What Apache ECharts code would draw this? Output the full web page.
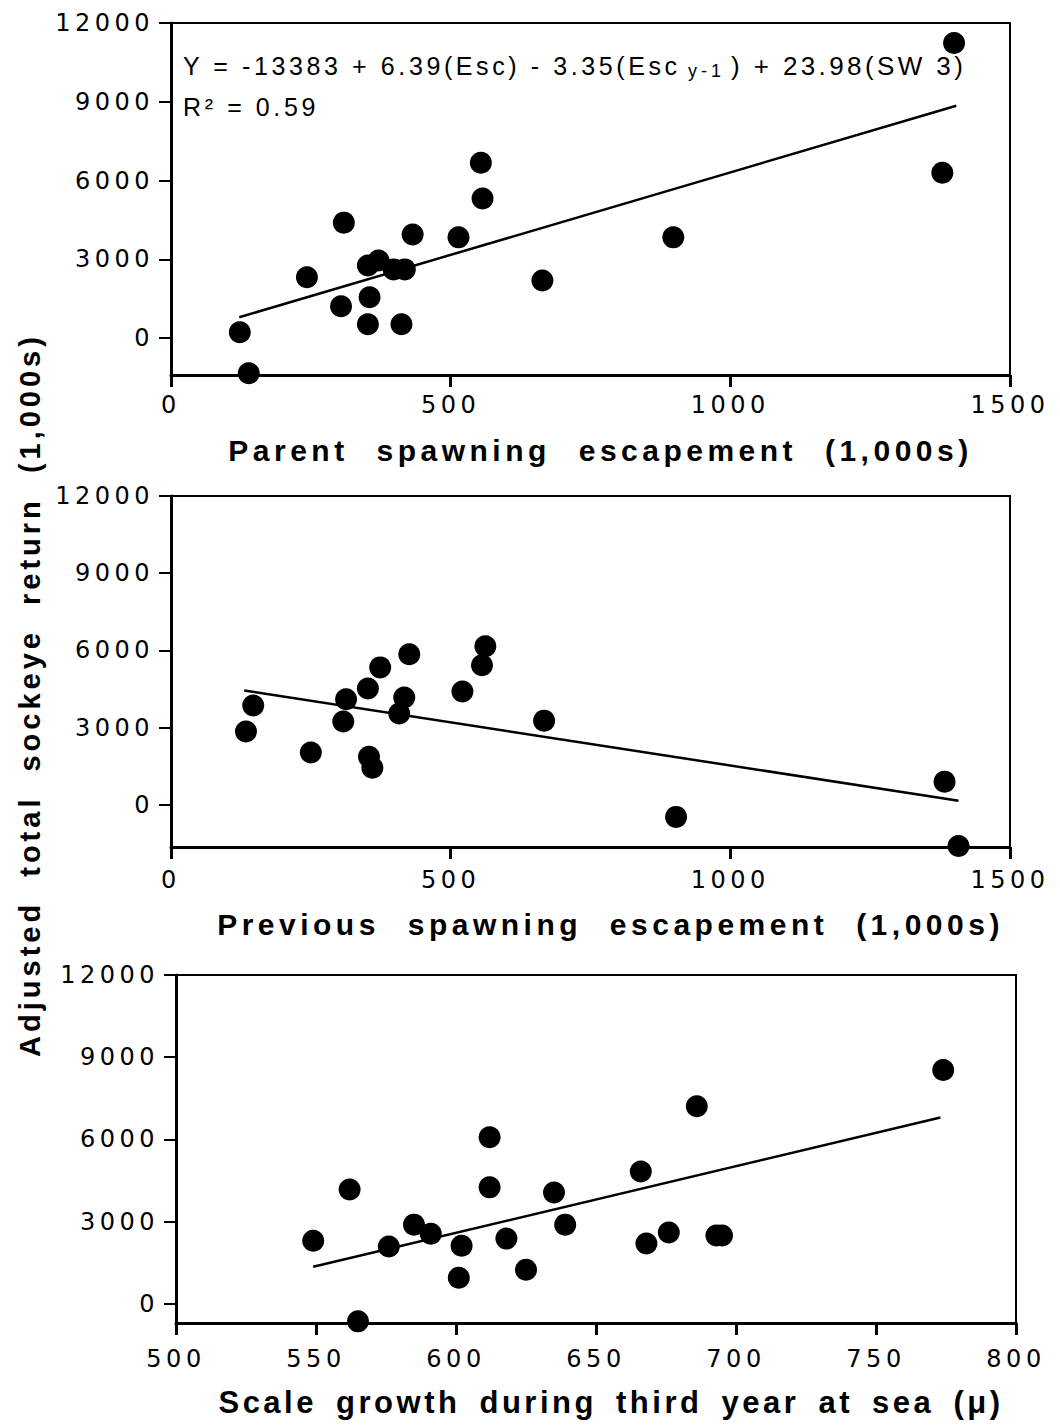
<!DOCTYPE html>
<html>
<head>
<meta charset="utf-8">
<title>Sockeye return</title>
<script src="https://cdn.jsdelivr.net/npm/echarts@6.0.0/dist/echarts.min.js"></script>
<style>
  html, body { margin: 0; padding: 0; background: #fff; }
  #chart { width: 1060px; height: 1426px; }
  /* the printed figure is spread out wide, so space the letters */
  #chart text[style*="24px"] { letter-spacing: 4.5px; }
  #chart text[style*="25px"] { letter-spacing: 3.6px; }
  #chart text[style*="26px"] { letter-spacing: 3.4px; }
  #chart text[style*="18px"] { letter-spacing: 4px; }
  #chart text[style*="30px"] { letter-spacing: 4.5px; word-spacing: 15px; }
  #chart text[style*="31px"] { letter-spacing: 3.5px; word-spacing: 7px; }
  #chart text[style*="29px"] { letter-spacing: 4px; word-spacing: 12px; }
</style>
</head>
<body>
<div id="chart"></div>
<script>
// panel 1: parent spawning escapement (1,000s) vs adjusted return
const parentEsc = [123, 139, 243, 304, 309, 352, 371, 398, 418, 355, 352, 412, 432, 514, 554, 557, 664, 898, 1379, 1400];
const parentRet = [230, -1330, 2320, 1215, 4400, 2770, 2960, 2620, 2620, 1560, 530, 530, 3950, 3840, 6680, 5320, 2200, 3840, 6300, 11240];
const parentFitX = [122, 1404];
const parentFitY = [800, 8850];

// panel 2: previous spawning escapement
const prevEsc = [134, 147, 250, 308, 313, 352, 374, 426, 417, 408, 354, 360, 521, 562, 556, 667, 903, 1383, 1408];
const prevRet = [2850, 3860, 2030, 3240, 4100, 4520, 5340, 5850, 4170, 3550, 1870, 1440, 4400, 6160, 5420, 3270, -470, 900, -1600];
const prevFitX = [131, 1408];
const prevFitY = [4440, 160];

// panel 3: scale growth in third year at sea (microns)
const scaleGrowth = [549, 562, 565, 576, 585, 591, 602, 601, 612, 612, 618, 625, 635, 639, 666, 668, 676, 686, 693, 695, 774];
const scaleRet = [2300, 4170, -640, 2090, 2890, 2560, 2120, 950, 6080, 4250, 2380, 1240, 4060, 2890, 4830, 2200, 2600, 7210, 2490, 2490, 8530];
const scaleFitX = [549, 773];
const scaleFitY = [1350, 6800];

const yTicks = [0, 3000, 6000, 9000, 12000];

const tickFont = { color: "#000", fontSize: 24, fontFamily: "DejaVu Sans", formatter: (v) => String(v) };
const nameFont = { color: "#000", fontWeight: "bold", fontFamily: "Liberation Sans" };

function pairs(xs, ys) {
  return xs.map((x, i) => [x, ys[i]]);
}

function makeX(idx, min, max, interval, name, gap, labelMargin, shift, size) {
  return {
    gridIndex: idx,
    type: "value",
    min: min,
    max: max,
    interval: interval,
    name: name,
    nameLocation: "middle",
    nameGap: gap,
    nameTextStyle: Object.assign({ padding: [0, 0, 0, shift], fontSize: size }, nameFont),
    axisLine: { show: true, onZero: false, lineStyle: { color: "#000", width: 3 } },
    axisTick: { show: true, length: 12, lineStyle: { color: "#000", width: 3 } },
    axisLabel: Object.assign({ margin: labelMargin }, tickFont),
    splitLine: { show: false },
  };
}

function makeY(idx, min) {
  return {
    gridIndex: idx,
    type: "value",
    min: min,
    max: 12000,
    axisLine: { show: true, onZero: false, lineStyle: { color: "#000", width: 3 } },
    axisTick: { show: true, length: 12, customValues: yTicks, lineStyle: { color: "#000", width: 2 } },
    axisLabel: Object.assign({ margin: 17, customValues: yTicks }, tickFont),
    splitLine: { show: false },
  };
}

function dots(idx, xs, ys) {
  return {
    type: "scatter",
    xAxisIndex: idx,
    yAxisIndex: idx,
    symbol: "circle",
    symbolSize: 22,
    itemStyle: { color: "#000", opacity: 1 },
    data: pairs(xs, ys),
  };
}

function fit(idx, xs, ys) {
  return {
    type: "line",
    xAxisIndex: idx,
    yAxisIndex: idx,
    showSymbol: false,
    symbol: "none",
    lineStyle: { color: "#000", width: 2.5 },
    z: 3,
    data: pairs(xs, ys),
  };
}

const chart = echarts.init(document.getElementById("chart"), null, { renderer: "svg" });
let option;
option = {
  animation: false,
  backgroundColor: "#fff",
  grid: [
    { left: 171, right: 50, top: 23, height: 352, show: true, borderColor: "#000", borderWidth: 2 },
    { left: 171, right: 50, top: 496, height: 351, show: true, borderColor: "#000", borderWidth: 2 },
    { left: 176, right: 44, top: 975, height: 348, show: true, borderColor: "#000", borderWidth: 2 },
  ],
  xAxis: [
    makeX(0, 0, 1500, 500, "Parent spawning escapement (1,000s)", 60, 18, 20, 30),
    makeX(1, 0, 1500, 500, "Previous spawning escapement (1,000s)", 62, 21, 40, 30),
    makeX(2, 500, 800, 50, "Scale growth during third year at sea (μ)", 64, 24, 30, 31),
  ],
  yAxis: [makeY(0, -1400), makeY(1, -1640), makeY(2, -700)],
  series: [
    dots(0, parentEsc, parentRet),
    fit(0, parentFitX, parentFitY),
    dots(1, prevEsc, prevRet),
    fit(1, prevFitX, prevFitY),
    dots(2, scaleGrowth, scaleRet),
    fit(2, scaleFitX, scaleFitY),
  ],
  graphic: [
    {
      // shared y axis title
      type: "text",
      x: 30,
      y: 695,
      rotation: Math.PI / 2,
      style: {
        text: "Adjusted total sockeye return (1,000s)",
        fill: "#000",
        font: "bold 29px 'Liberation Sans'",
        textAlign: "center",
        textVerticalAlign: "middle",
      },
    },
    {
      type: "text",
      x: 183,
      y: 66,
      style: {
        text: "Y = -13383 + 6.39(Esc) - 3.35(Esc",
        fill: "#000",
        font: "25px 'Liberation Sans'",
        textAlign: "left",
        textVerticalAlign: "middle",
      },
    },
    {
      type: "text",
      x: 688,
      y: 71,
      style: {
        text: "y-1",
        fill: "#000",
        font: "18px 'Liberation Sans'",
        textAlign: "left",
        textVerticalAlign: "middle",
      },
    },
    {
      type: "text",
      x: 731,
      y: 66,
      style: {
        text: ") + 23.98(SW 3)",
        fill: "#000",
        font: "26px 'Liberation Sans'",
        textAlign: "left",
        textVerticalAlign: "middle",
      },
    },
    {
      type: "text",
      x: 183,
      y: 107,
      style: {
        text: "R² = 0.59",
        fill: "#000",
        font: "25px 'Liberation Sans'",
        textAlign: "left",
        textVerticalAlign: "middle",
      },
    },
  ],
};
option && chart.setOption(option);
</script>
</body>
</html>
